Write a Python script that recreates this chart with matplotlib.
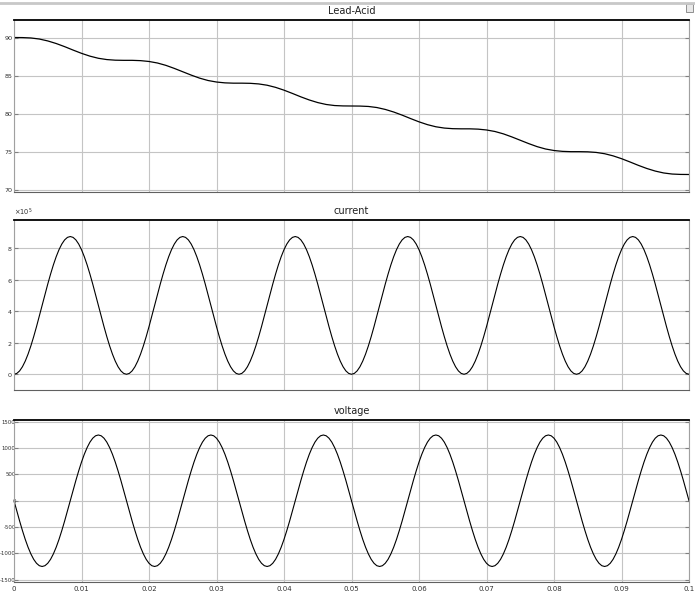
import matplotlib
matplotlib.use('Agg')
import matplotlib.pyplot as plt
import numpy as np
from matplotlib.lines import Line2D
from matplotlib.ticker import ScalarFormatter

plt.rcParams['font.family'] = ['Liberation Sans Narrow', 'DejaVu Sans']
plt.rcParams['axes.unicode_minus'] = False

# state of charge of the lead-acid battery, read every 0.00125 s
soc_t = np.linspace(0, 0.1, 81)
soc = [90.00, 89.99, 89.94, 89.80, 89.55, 89.21, 88.80, 88.35, 87.92, 87.55,
       87.27, 87.10, 87.02, 87.00, 87.00, 86.96, 86.85, 86.65, 86.34, 85.94,
       85.50, 85.06, 84.66, 84.35, 84.15, 84.04, 84.00, 84.00, 83.98, 83.90,
       83.73, 83.45, 83.08, 82.65, 82.20, 81.79, 81.45, 81.20, 81.06, 81.01,
       81.00, 80.99, 80.94, 80.80, 80.55, 80.21, 79.80, 79.35, 78.92, 78.55,
       78.27, 78.10, 78.02, 78.00, 78.00, 77.96, 77.85, 77.65, 77.34, 76.94,
       76.50, 76.06, 75.66, 75.35, 75.15, 75.04, 75.00, 75.00, 74.98, 74.90,
       74.73, 74.45, 74.08, 73.65, 73.20, 72.79, 72.45, 72.20, 72.06, 72.01,
       72.00]

# current (x1e5) and voltage, read every 1/2400 s
wave_t = np.linspace(0, 0.1, 241)
current = [
    0, 0.054, 0.214, 0.477, 0.836, 1.281, 1.803, 2.389, 3.023, 3.691,
    4.375, 5.059, 5.727, 6.361, 6.947, 7.469, 7.914, 8.273, 8.536, 8.696,
    8.75, 8.696, 8.536, 8.273, 7.914, 7.469, 6.947, 6.361, 5.727, 5.059,
    4.375, 3.691, 3.023, 2.389, 1.803, 1.281, 0.836, 0.477, 0.214, 0.054,
    0, 0.054, 0.214, 0.477, 0.836, 1.281, 1.803, 2.389, 3.023, 3.691,
    4.375, 5.059, 5.727, 6.361, 6.947, 7.469, 7.914, 8.273, 8.536, 8.696,
    8.75, 8.696, 8.536, 8.273, 7.914, 7.469, 6.947, 6.361, 5.727, 5.059,
    4.375, 3.691, 3.023, 2.389, 1.803, 1.281, 0.836, 0.477, 0.214, 0.054,
    0, 0.054, 0.214, 0.477, 0.836, 1.281, 1.803, 2.389, 3.023, 3.691,
    4.375, 5.059, 5.727, 6.361, 6.947, 7.469, 7.914, 8.273, 8.536, 8.696,
    8.75, 8.696, 8.536, 8.273, 7.914, 7.469, 6.947, 6.361, 5.727, 5.059,
    4.375, 3.691, 3.023, 2.389, 1.803, 1.281, 0.836, 0.477, 0.214, 0.054,
    0, 0.054, 0.214, 0.477, 0.836, 1.281, 1.803, 2.389, 3.023, 3.691,
    4.375, 5.059, 5.727, 6.361, 6.947, 7.469, 7.914, 8.273, 8.536, 8.696,
    8.75, 8.696, 8.536, 8.273, 7.914, 7.469, 6.947, 6.361, 5.727, 5.059,
    4.375, 3.691, 3.023, 2.389, 1.803, 1.281, 0.836, 0.477, 0.214, 0.054,
    0, 0.054, 0.214, 0.477, 0.836, 1.281, 1.803, 2.389, 3.023, 3.691,
    4.375, 5.059, 5.727, 6.361, 6.947, 7.469, 7.914, 8.273, 8.536, 8.696,
    8.75, 8.696, 8.536, 8.273, 7.914, 7.469, 6.947, 6.361, 5.727, 5.059,
    4.375, 3.691, 3.023, 2.389, 1.803, 1.281, 0.836, 0.477, 0.214, 0.054,
    0, 0.054, 0.214, 0.477, 0.836, 1.281, 1.803, 2.389, 3.023, 3.691,
    4.375, 5.059, 5.727, 6.361, 6.947, 7.469, 7.914, 8.273, 8.536, 8.696,
    8.75, 8.696, 8.536, 8.273, 7.914, 7.469, 6.947, 6.361, 5.727, 5.059,
    4.375, 3.691, 3.023, 2.389, 1.803, 1.281, 0.836, 0.477, 0.214, 0.054,
    0]
current = np.array(current) * 1e5
voltage = [
    0, -196, -386, -567, -735, -884, -1011, -1114, -1189, -1235,
    -1250, -1235, -1189, -1114, -1011, -884, -735, -567, -386, -196,
    0, 196, 386, 567, 735, 884, 1011, 1114, 1189, 1235,
    1250, 1235, 1189, 1114, 1011, 884, 735, 567, 386, 196,
    0, -196, -386, -567, -735, -884, -1011, -1114, -1189, -1235,
    -1250, -1235, -1189, -1114, -1011, -884, -735, -567, -386, -196,
    0, 196, 386, 567, 735, 884, 1011, 1114, 1189, 1235,
    1250, 1235, 1189, 1114, 1011, 884, 735, 567, 386, 196,
    0, -196, -386, -567, -735, -884, -1011, -1114, -1189, -1235,
    -1250, -1235, -1189, -1114, -1011, -884, -735, -567, -386, -196,
    0, 196, 386, 567, 735, 884, 1011, 1114, 1189, 1235,
    1250, 1235, 1189, 1114, 1011, 884, 735, 567, 386, 196,
    0, -196, -386, -567, -735, -884, -1011, -1114, -1189, -1235,
    -1250, -1235, -1189, -1114, -1011, -884, -735, -567, -386, -196,
    0, 196, 386, 567, 735, 884, 1011, 1114, 1189, 1235,
    1250, 1235, 1189, 1114, 1011, 884, 735, 567, 386, 196,
    0, -196, -386, -567, -735, -884, -1011, -1114, -1189, -1235,
    -1250, -1235, -1189, -1114, -1011, -884, -735, -567, -386, -196,
    0, 196, 386, 567, 735, 884, 1011, 1114, 1189, 1235,
    1250, 1235, 1189, 1114, 1011, 884, 735, 567, 386, 196,
    0, -196, -386, -567, -735, -884, -1011, -1114, -1189, -1235,
    -1250, -1235, -1189, -1114, -1011, -884, -735, -567, -386, -196,
    0, 196, 386, 567, 735, 884, 1011, 1114, 1189, 1235,
    1250, 1235, 1189, 1114, 1011, 884, 735, 567, 386, 196,
    0]

x_ticks = [0, 0.01, 0.02, 0.03, 0.04, 0.05, 0.06, 0.07, 0.08, 0.09, 0.1]
x_labels = ['0', '0.01', '0.02', '0.03', '0.04', '0.05', '0.06', '0.07', '0.08', '0.09', '0.1']

fig = plt.figure(figsize=(6.95, 5.96), dpi=100)
left, width = 14 / 695, 675 / 695
ax1 = fig.add_axes([left, 1 - 192 / 596, width, 172 / 596])
ax2 = fig.add_axes([left, 1 - 390 / 596, width, 170 / 596])
ax3 = fig.add_axes([left, 1 - 582 / 596, width, 162 / 596])


def scope_style(ax, title, ysize=4.6, ypad=0.8):
    ax.set_xlim(0, 0.1)
    ax.set_xticks(x_ticks)
    ax.grid(True, color='#c4c4c4', linewidth=0.8)
    ax.set_axisbelow(True)
    for side in ['left', 'right']:
        ax.spines[side].set_color('#a0a0a0')
    ax.spines['top'].set_color('black')
    ax.spines['top'].set_linewidth(1.3)
    ax.spines['bottom'].set_color('#606060')
    ax.tick_params(axis='y', which='both', direction='in', length=3,
                   width=0.8, color='#808080', labelsize=ysize, pad=ypad,
                   right=True, labelcolor='#303030')
    ax.tick_params(axis='x', length=0, labelsize=5, pad=3, labelcolor='#303030')
    ax.set_title(title, fontsize=7, pad=4, color='#202020')


ax1.plot(soc_t, soc, color='black', linewidth=0.9)
scope_style(ax1, 'Lead-Acid')
ax1.set_ylim(69.7, 92.3)
ax1.set_yticks([70, 75, 80, 85, 90])
ax1.set_xticklabels([])

ax2.plot(wave_t, current, color='black', linewidth=0.8)
scope_style(ax2, 'current')
ax2.set_ylim(-1.0e5, 9.8e5)
ax2.set_yticks([0, 2e5, 4e5, 6e5, 8e5])
fmt = ScalarFormatter(useMathText=True)
fmt.set_powerlimits((0, 0))
ax2.yaxis.set_major_formatter(fmt)
ax2.yaxis.get_offset_text().set_fontsize(4.8)
ax2.set_xticklabels([])

ax3.plot(wave_t, voltage, color='black', linewidth=0.8)
scope_style(ax3, 'voltage', ysize=3.9, ypad=-1.2)
ax3.set_ylim(-1545, 1535)
ax3.set_yticks([-1500, -1000, -500, 0, 500, 1000, 1500])
ax3.set_xticklabels(x_labels)

# window frame line and corner button
fig.add_artist(Line2D([0, 1], [1 - 3 / 596, 1 - 3 / 596], color='#c8c8c8', linewidth=2))
fig.add_artist(plt.Rectangle((686 / 695, 1 - 12 / 596), 7 / 695, 8 / 596,
                             facecolor='#e8e8e8', edgecolor='#808080', linewidth=0.6))

fig.savefig('out.png', dpi=100)
